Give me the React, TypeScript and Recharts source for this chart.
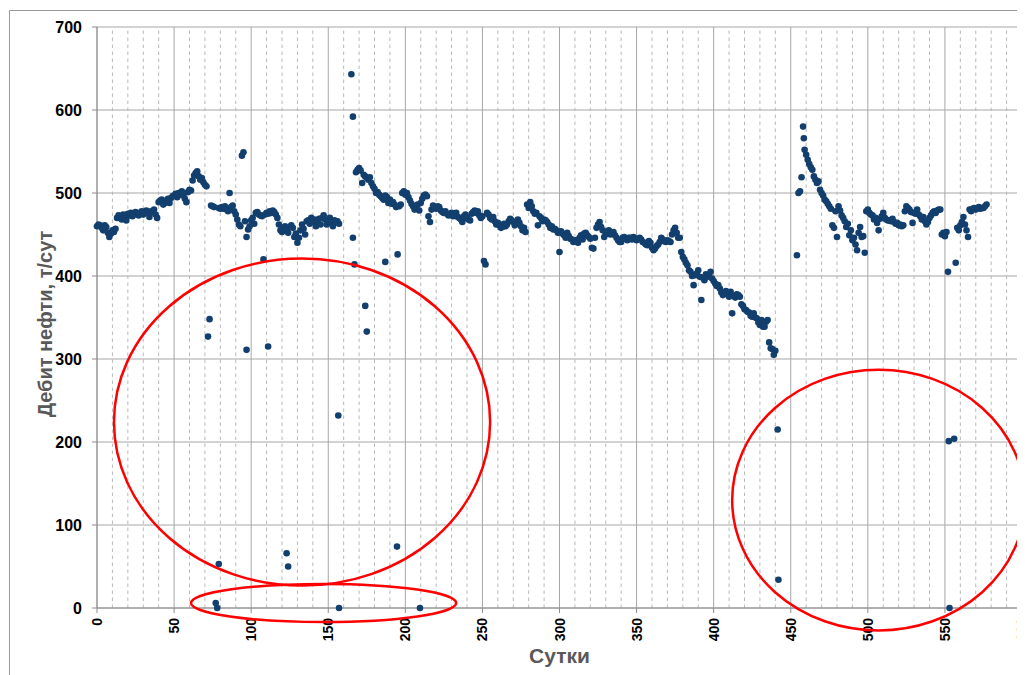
import { ScatterChart, Scatter, XAxis, YAxis, CartesianGrid, ReferenceLine, Label } from 'recharts';

// дебит нефти по суткам: [сутки, т/сут]
const stage1: [number, number][] = [
  [0, 460], [1, 462], [2, 461], [3, 458], [4, 455], [5, 461], [6, 459], [7, 452], [8, 447], [9, 451],
  [10, 455], [11, 453], [12, 457], [13, 470], [14, 473], [15, 471], [16, 468], [17, 474], [18, 472], [19, 467],
  [20, 475], [21, 473], [22, 476], [23, 472], [24, 474], [25, 477], [26, 475], [27, 473], [28, 476], [29, 478],
  [30, 474], [31, 477], [32, 479], [33, 476], [34, 471], [35, 478], [36, 477], [37, 480], [38, 474], [39, 470],
  [40, 489], [41, 491], [42, 492], [43, 486], [44, 488], [45, 490], [46, 493], [47, 488], [48, 494], [49, 496],
  [50, 497], [51, 499], [52, 495], [53, 500], [54, 498], [55, 502], [56, 497], [57, 493], [58, 489], [59, 501],
  [60, 504], [61, 503], [62, 515], [63, 521], [64, 524], [65, 526], [66, 520], [67, 516], [68, 518], [69, 513],
  [70, 510], [71, 508], [74, 485], [75, 484], [76, 483], [79, 482], [80, 481], [81, 483], [82, 481], [83, 484],
  [84, 480], [85, 478], [86, 500], [87, 483], [88, 485], [89, 478], [90, 474], [91, 468], [92, 462], [93, 460],
  [94, 545], [95, 549], [96, 466], [97, 447], [98, 456], [99, 460], [100, 467], [101, 470], [102, 463], [103, 476],
  [104, 477], [105, 474], [106, 473], [107, 472], [108, 420], [109, 474], [110, 476], [111, 475], [112, 478], [113, 476],
  [114, 479], [115, 477], [116, 474], [117, 470],
];

const stage2: [number, number][] = [
  [118, 462], [119, 455], [120, 453], [121, 458], [122, 460], [123, 456], [124, 452], [125, 459], [126, 461], [127, 458],
  [128, 447], [129, 451], [130, 440], [131, 446], [132, 455], [133, 462], [134, 457], [135, 450], [136, 466], [137, 467],
  [138, 463], [139, 470], [140, 465], [141, 468], [142, 460], [143, 466], [144, 469], [145, 462], [146, 470], [147, 473],
  [148, 468], [149, 462], [150, 467], [151, 470], [152, 464], [153, 460], [154, 467], [155, 465], [156, 466], [157, 463],
  [165, 643], [166, 592], [166, 446], [167, 414], [168, 525], [169, 528], [170, 530], [171, 527], [172, 512], [173, 522],
  [174, 520], [175, 518], [176, 516], [177, 519], [178, 512], [179, 508], [180, 505], [181, 500], [182, 501], [183, 498],
  [184, 496], [185, 494], [186, 492], [187, 497], [188, 495], [189, 488], [190, 492], [191, 487], [192, 489], [193, 486],
  [194, 483], [196, 484], [197, 486], [198, 500], [199, 502], [200, 498], [201, 500], [202, 495], [203, 491], [204, 487],
  [205, 484], [206, 480], [207, 483], [208, 486], [209, 479], [210, 488], [211, 493], [212, 497], [213, 498], [214, 496],
  [215, 472], [216, 465], [217, 480], [218, 485], [219, 483], [220, 481], [221, 484], [222, 483], [223, 479], [224, 477],
  [225, 476], [226, 478], [227, 475], [228, 473], [229, 474], [230, 476], [231, 472], [232, 475], [233, 476], [234, 471],
  [235, 470],
];

const stage3: [number, number][] = [
  [236, 468], [237, 465], [238, 472], [239, 474], [240, 470], [241, 468], [242, 467], [243, 475], [244, 477], [245, 479],
  [246, 476], [247, 478], [248, 473], [249, 470], [250, 472], [251, 418], [252, 414], [253, 476], [254, 474], [255, 470],
  [256, 468], [257, 471], [258, 466], [259, 462], [260, 464], [261, 461], [262, 458], [263, 459], [264, 463], [265, 460],
  [266, 462], [267, 466], [268, 469], [269, 467], [270, 465], [271, 461], [272, 463], [273, 468], [274, 464], [275, 460],
  [276, 455], [277, 458], [278, 453], [279, 486], [280, 482], [281, 489], [282, 484], [283, 478], [284, 475], [285, 476],
  [286, 461], [287, 472], [288, 470], [289, 466], [290, 468], [291, 467], [292, 465], [293, 462], [294, 458], [295, 460],
  [296, 456], [297, 457], [298, 455], [299, 452], [300, 429], [301, 454], [302, 451], [303, 449], [304, 446], [305, 452],
  [306, 448], [307, 445], [308, 444], [309, 441], [310, 443], [311, 443], [312, 440], [313, 446], [314, 449], [315, 444],
  [316, 451], [317, 452], [318, 449], [319, 447], [320, 445], [321, 434], [322, 433], [323, 446], [324, 458], [325, 462],
  [326, 465], [327, 459], [328, 455], [329, 447], [330, 453], [331, 451], [332, 455], [333, 450], [334, 452], [335, 453],
  [336, 449], [337, 446], [338, 443], [339, 441], [340, 441], [341, 446], [342, 447], [343, 445], [344, 443], [345, 446],
  [346, 446], [347, 444], [348, 447], [349, 445], [350, 443], [351, 444], [352, 446], [353, 444], [354, 441], [355, 440],
  [356, 438], [357, 437], [358, 442], [359, 440], [360, 434], [361, 431], [362, 433], [363, 436], [364, 438], [365, 441],
  [366, 446], [367, 444], [368, 442], [369, 441], [370, 443], [371, 442], [372, 441], [373, 450], [374, 455], [375, 458],
  [376, 452], [377, 446], [378, 446],
];

const stage4: [number, number][] = [
  [379, 429], [380, 423], [381, 420], [382, 416], [383, 413], [384, 407], [385, 405], [386, 400], [387, 389], [388, 401],
  [389, 403], [390, 407], [391, 399], [392, 371], [393, 398], [394, 395], [395, 402], [396, 399], [397, 401], [398, 405],
  [399, 397], [400, 394], [401, 391], [402, 388], [403, 389], [404, 385], [405, 380], [406, 377], [407, 379], [408, 382],
  [409, 378], [410, 375], [411, 381], [412, 355], [413, 376], [414, 374], [415, 378], [416, 377], [417, 375], [418, 366],
  [419, 364], [420, 360], [421, 359], [422, 357], [423, 356], [424, 352], [425, 351], [426, 355], [427, 350], [428, 349],
  [429, 344], [430, 341], [431, 347], [432, 339], [433, 339], [434, 345], [435, 347], [436, 320], [437, 313], [438, 312],
  [439, 305], [440, 310],
];

const stage5: [number, number][] = [
  [454, 425], [455, 500], [456, 502], [457, 519], [458, 580], [458.5, 566], [459, 552], [460, 546], [461, 540], [462, 535],
  [463, 531], [464, 528], [465, 520], [466, 516], [467, 512], [468, 514], [469, 504], [470, 500], [471, 497], [472, 492],
  [473, 490], [474, 487], [475, 484], [476, 481], [477, 461], [478, 458], [479, 478], [480, 447], [481, 484], [482, 479],
  [483, 473], [484, 470], [485, 466], [486, 459], [487, 463], [488, 449], [489, 455], [490, 443], [491, 446], [492, 438],
  [493, 431], [494, 452], [495, 459], [496, 447], [497, 448], [498, 428], [499, 478], [500, 480], [501, 476], [502, 474],
  [503, 473], [504, 468], [505, 470], [506, 464], [507, 455], [508, 469], [509, 472], [510, 476], [511, 470], [512, 468],
  [513, 467], [514, 467], [515, 466], [516, 469], [517, 465], [518, 463], [519, 464], [520, 461], [521, 462], [522, 460],
  [523, 461], [524, 478], [525, 484], [526, 482], [527, 480], [528, 477], [529, 464], [530, 476], [531, 475], [532, 480],
  [533, 474], [534, 472], [535, 468], [536, 471], [537, 466], [538, 462], [539, 465], [540, 470], [541, 473], [542, 476],
  [543, 478], [544, 476], [545, 479], [546, 480], [547, 480], [548, 450], [549, 452], [550, 448], [551, 453], [552, 405],
  [557, 416], [558, 458], [559, 455], [560, 461], [561, 465], [562, 471], [563, 462], [564, 455], [565, 447], [566, 480],
  [567, 478], [568, 481], [569, 482], [570, 480], [571, 482], [572, 483], [573, 481], [574, 482], [575, 482], [576, 484],
  [577, 486],
];

// выпадающие замеры
const outliers: [number, number][] = [
  [72, 327], [73, 348], [77, 6], [78, 0], [79, 53], [97, 311], [111, 315], [123, 66], [124, 50],
  [156.5, 232], [157, 0], [174, 364], [175, 333], [187, 417], [195, 426], [194.6, 74], [209.5, 0],
  [441.5, 215], [442, 34], [552.5, 201], [553, 0], [556, 204],
];

const xTicks = [0, 50, 100, 150, 200, 250, 300, 350, 400, 450, 500, 550, 600];
const yTicks = [0, 100, 200, 300, 400, 500, 600, 700];
const minorX = Array.from({ length: 61 }, (_, i) => i * 10).filter((v) => v % 50 !== 0);

// красные овалы: центр и полуоси в единицах осей
const rings = [
  { day: 133, rate: 224, rDay: 122, rRate: 197 },
  { day: 147, rate: 6, rDay: 86, rRate: 23 },
  { day: 507, rate: 130, rDay: 95, rRate: 157 },
];

const W = 1017;
const H = 667;
const plot = { left: 89, top: 19, width: 925, height: 581 };
const font = '"Liberation Sans", Arial, sans-serif';
const dotColor = '#123f6d';

const data = [...stage1, ...stage2, ...stage3, ...stage4, ...stage5, ...outliers].map(([day, rate]) => ({ day, rate }));

const XTick = (props: any) => {
  const { x, y, payload } = props;
  return (
    <text
      x={x}
      y={y}
      transform={`rotate(-90 ${x} ${y})`}
      textAnchor="end"
      dominantBaseline="central"
      fill="#000"
      fontSize={14}
      fontWeight={700}
      fontFamily={font}
    >
      {payload.value}
    </text>
  );
};

export default function App() {
  const px = (d: number) => plot.left + (d / 600) * plot.width;
  const py = (v: number) => plot.top + plot.height - (v / 700) * plot.height;
  return (
    <div style={{ position: 'relative', width: W, height: H }}>
      <ScatterChart width={W} height={H} margin={{ top: 19, right: 3, left: 0, bottom: 0 }}>
        <CartesianGrid stroke="#a6a6a6" strokeWidth={1} />
        {minorX.map((v) => (
          <ReferenceLine key={v} x={v} stroke="#b8b8b8" strokeDasharray="3.5 3.5" />
        ))}
        <XAxis
          type="number"
          dataKey="day"
          domain={[0, 600]}
          ticks={xTicks}
          height={67}
          tickSize={5}
          tickMargin={5}
          stroke="#8c8c8c"
          tick={<XTick />}
          interval={0}
        >
          <Label
            content={() => (
              <text x={551.5} y={655} textAnchor="middle" fontSize={21} fontWeight={700} fill="#595959" fontFamily={font}>
                Сутки
              </text>
            )}
          />
        </XAxis>
        <YAxis
          type="number"
          dataKey="rate"
          domain={[0, 700]}
          ticks={yTicks}
          width={89}
          tickSize={5}
          tickMargin={10}
          stroke="#8c8c8c"
          interval={0}
          tick={{ fill: '#000', fontSize: 16, fontWeight: 700, fontFamily: font }}
        >
          <Label
            content={() => (
              <text
                x={37}
                y={316}
                transform="rotate(-90 37 316)"
                textAnchor="middle"
                dominantBaseline="central"
                fontSize={20}
                fontWeight={700}
                fill="#595959"
                fontFamily={font}
              >
                Дебит нефти, т/сут
              </text>
            )}
          />
        </YAxis>
        <Scatter
          data={data}
          isAnimationActive={false}
          shape={(p: any) => <circle cx={p.cx} cy={p.cy} r={3.3} fill={dotColor} />}
        />
      </ScatterChart>
      <svg width={W} height={H} style={{ position: 'absolute', left: 0, top: 0, pointerEvents: 'none' }}>
        <line x1={1.5} y1={2.5} x2={W} y2={2.5} stroke="#999" />
        <line x1={1.5} y1={2.5} x2={1.5} y2={H} stroke="#999" />
        {rings.map((r, i) => (
          <ellipse
            key={i}
            cx={px(r.day)}
            cy={py(r.rate)}
            rx={(r.rDay / 600) * plot.width}
            ry={(r.rRate / 700) * plot.height}
            fill="none"
            stroke="#ff0000"
            strokeWidth={2.5}
          />
        ))}
      </svg>
    </div>
  );
}
